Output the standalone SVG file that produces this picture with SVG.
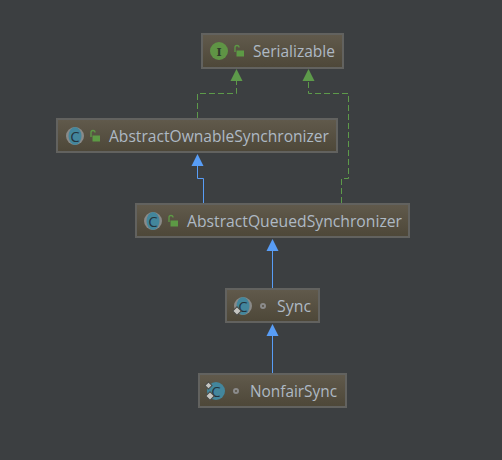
<svg xmlns="http://www.w3.org/2000/svg" width="502" height="460" viewBox="0 0 502 460">
<style>
.box{fill:url(#nodeFill);stroke:#62625f;stroke-width:2}
.label{font-family:"Open Sans","DejaVu Sans",sans-serif;font-size:15.500px;fill:#aeb9c4}
.dash{fill:none;stroke:#5d9a4a;stroke-width:1;stroke-dasharray:6 3}
.solid{fill:none;stroke:#589df6;stroke-width:1}
.lock{fill:none;stroke:#5d9a45;stroke-width:1.300}
.lockbody{fill:#5d9a45}
.ring{fill:#8a8a88}
.cdisc{fill:#43869c}
.cglyph{font-family:"Open Sans","DejaVu Sans",sans-serif;font-size:15px;fill:#24343c;text-anchor:middle}
.dot{fill:none;stroke:#8b8b8b;stroke-width:2}
.badge{fill:#c4c4c0;stroke:#4a4a46;stroke-width:1}
</style>
<defs>
<linearGradient id="nodeFill" x1="0" y1="0" x2="0" y2="1">
<stop offset="0" stop-color="#615a4c"/>
<stop offset="1" stop-color="#4d4738"/>
</linearGradient>
</defs>
<rect width="502" height="460" fill="#3c3f41"/>
<g id="connectors">
<path class="dash" d="M197.500 118V93.500H236.500V80"/>
<path class="dash" d="M341.500 203V178.500H348.500V93.500H308.500V80"/>
<path class="solid" d="M203.500 203V178.500H197.500V165"/>
<path class="solid" d="M272.500 288V250"/>
<path class="solid" d="M272.500 373V335"/>
<path d="M236.500 69L242.500 81H230.500Z" fill="#5d9a4a"/>
<path d="M308.500 69L314.500 81H302.500Z" fill="#5d9a4a"/>
<path d="M197.500 154L203.500 166H191.500Z" fill="#589df6"/>
<path d="M272.500 239L278.500 251H266.500Z" fill="#589df6"/>
<path d="M272.500 324L278.500 336H266.500Z" fill="#589df6"/>
</g>
<g id="serializable">
<rect class="box" x="202" y="34" width="141" height="34"/>
<circle cx="219" cy="51" r="9" fill="#5f9445"/>
<text x="219" y="55.500" font-family="'DejaVu Serif',serif" font-size="11" font-weight="bold" fill="#2f3b2a" text-anchor="middle">I</text>
<path class="lock" d="M235 52V47.500a2 2 0 0 1 4 0"/>
<rect class="lockbody" x="236.500" y="50.500" width="7.500" height="6"/>
<text class="label" x="253" y="57" textLength="82" lengthAdjust="spacingAndGlyphs">Serializable</text>
</g>
<g id="abstractOwnableSynchronizer">
<rect class="box" x="57" y="119" width="280" height="33"/>
<circle cx="75" cy="136" r="9" class="ring"/>
<ellipse cx="75" cy="136" rx="6.500" ry="9" class="cdisc"/>
<text class="cglyph" x="75" y="141.500">C</text>
<path class="lock" d="M91 137V132.500a2 2 0 0 1 4 0"/>
<rect class="lockbody" x="92.500" y="135.500" width="7.500" height="6"/>
<text class="label" x="109" y="142" textLength="220" lengthAdjust="spacingAndGlyphs">AbstractOwnableSynchronizer</text>
</g>
<g id="abstractQueuedSynchronizer">
<rect class="box" x="136" y="204" width="273" height="33"/>
<circle cx="153" cy="221" r="9" class="ring"/>
<ellipse cx="153" cy="221" rx="6.500" ry="9" class="cdisc"/>
<text class="cglyph" x="153" y="226.500">C</text>
<path class="lock" d="M169 222V217.500a2 2 0 0 1 4 0"/>
<rect class="lockbody" x="170.500" y="220.500" width="7.500" height="6"/>
<text class="label" x="187" y="227" textLength="215" lengthAdjust="spacingAndGlyphs">AbstractQueuedSynchronizer</text>
</g>
<g id="sync">
<rect class="box" x="226" y="289" width="93" height="33"/>
<circle cx="243" cy="306" r="9" class="ring"/>
<ellipse cx="243" cy="306" rx="6.500" ry="9" class="cdisc"/>
<text class="cglyph" x="243" y="311.500">C</text>
<rect class="badge" x="234" y="308" width="6" height="6" transform="rotate(45 237 311)"/>
<circle class="dot" cx="263" cy="306" r="2"/>
<text class="label" x="277" y="312" textLength="34" lengthAdjust="spacingAndGlyphs">Sync</text>
</g>
<g id="nonfairSync">
<rect class="box" x="199" y="374" width="147" height="33"/>
<circle cx="216" cy="391" r="9" class="cdisc"/>
<text class="cglyph" x="216" y="396.500">C</text>
<rect class="badge" x="207" y="393" width="6" height="6" transform="rotate(45 210 396)"/>
<rect class="badge" x="206" y="383" width="5" height="5" transform="rotate(45 208.500 385.500)"/>
<circle class="dot" cx="236" cy="391" r="2"/>
<text class="label" x="250" y="397" textLength="87" lengthAdjust="spacingAndGlyphs">NonfairSync</text>
</g>
</svg>
